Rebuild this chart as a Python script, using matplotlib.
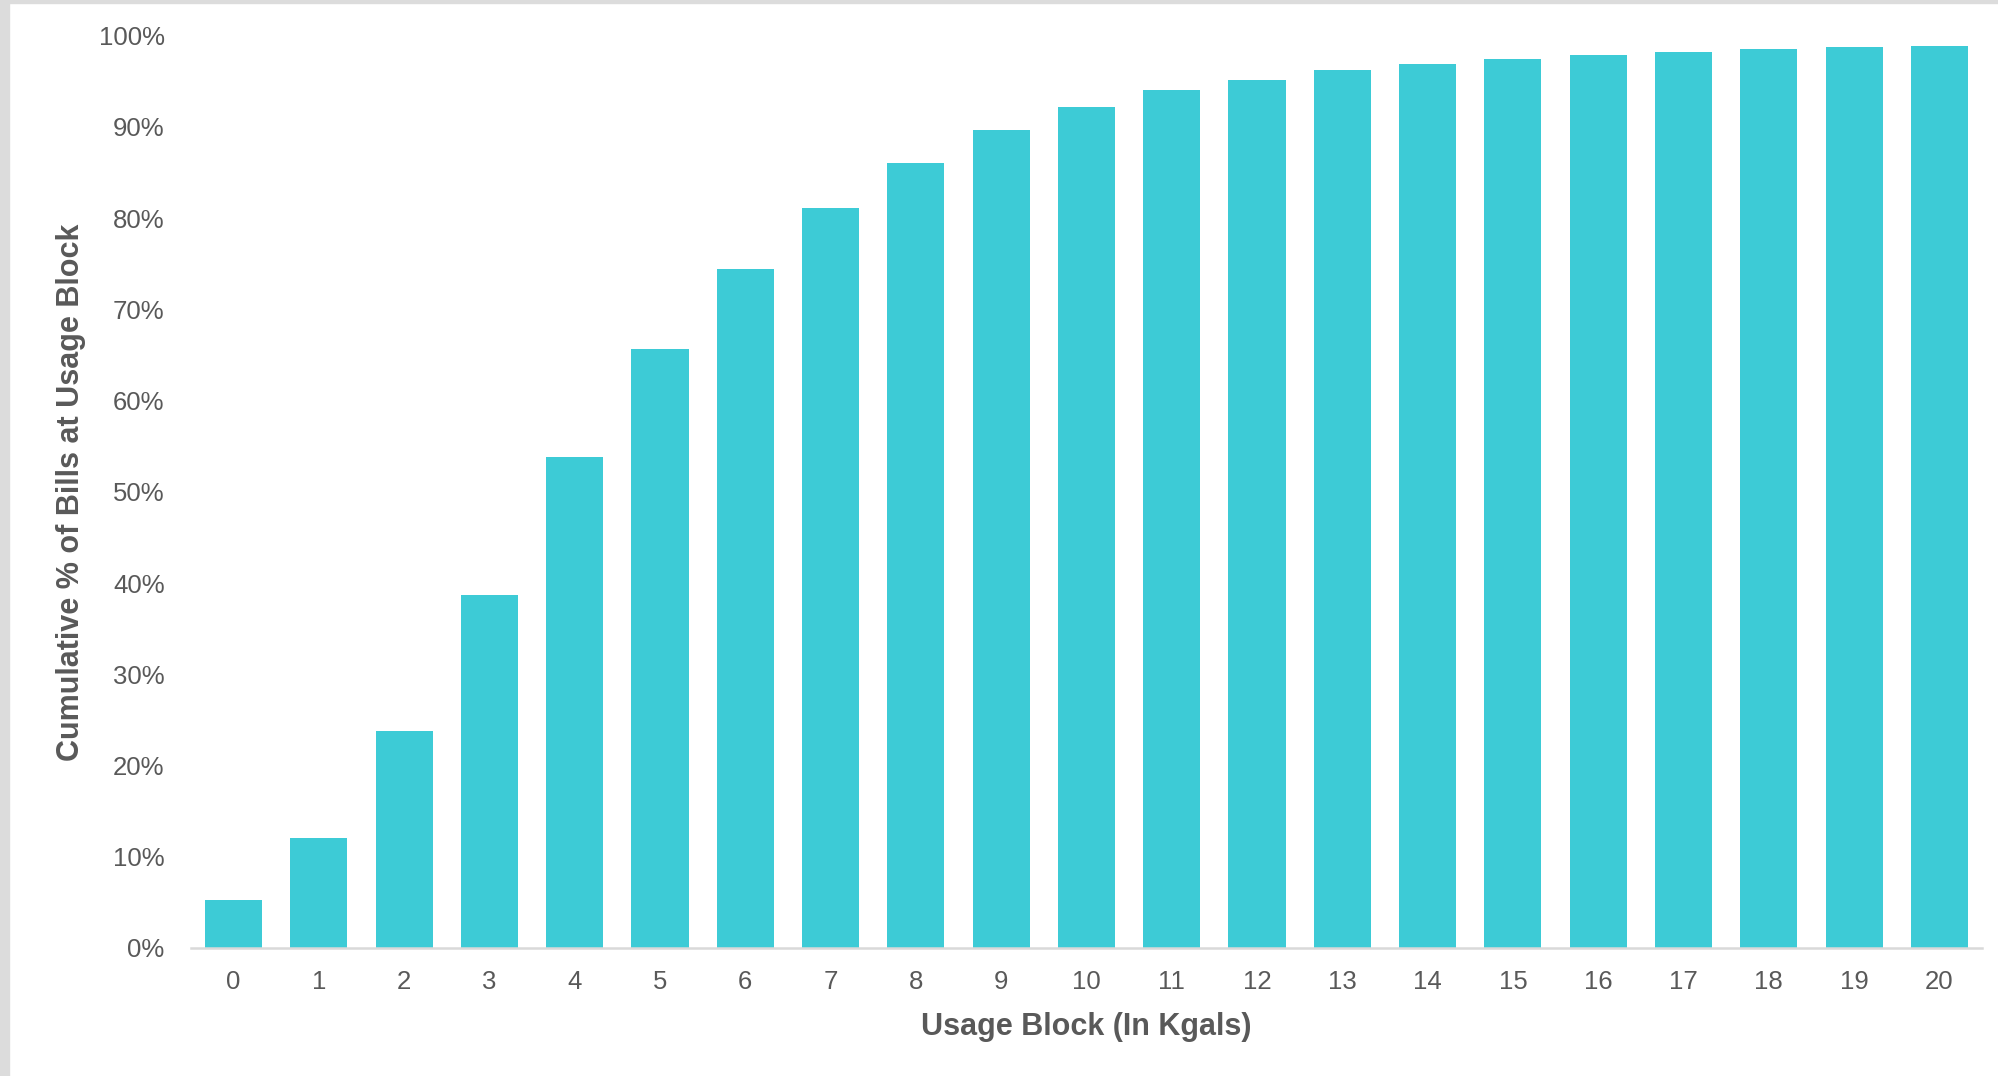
import matplotlib
matplotlib.use("Agg")
import matplotlib.pyplot as plt
from matplotlib.patches import Rectangle
from matplotlib.ticker import PercentFormatter

# usage blocks (kgals) and cumulative share of bills, in %
blocks = list(range(21))
cum_pct = [5.3, 12.0, 23.8, 38.7, 53.8, 65.7, 74.4, 81.1, 86.0, 89.7, 92.2,
           94.0, 95.2, 96.2, 96.9, 97.4, 97.9, 98.2, 98.5, 98.8, 98.9]
tick_labels = [str(b) for b in blocks]
y_ticks = [0, 10, 20, 30, 40, 50, 60, 70, 80, 90, 100]

BAR_COLOR = "#3DCBD6"
TEXT_COLOR = "#595959"
AXIS_COLOR = "#D9D9D9"

plt.rcParams["font.family"] = ["Liberation Sans", "DejaVu Sans"]

fig = plt.figure(figsize=(19.99, 10.76), dpi=100)
ax = fig.add_axes([0.0955, 0.119, 0.896, 0.8478])

ax.bar(blocks, cum_pct, width=0.67, color=BAR_COLOR, zorder=2)

ax.set_xlim(-0.5, 20.5)
ax.set_ylim(0, 100)
ax.set_xticks(blocks)
ax.set_xticklabels(tick_labels)
ax.set_yticks(y_ticks)
ax.yaxis.set_major_formatter(PercentFormatter(xmax=100, decimals=0))

for side in ["top", "right", "left"]:
    ax.spines[side].set_visible(False)
ax.spines["bottom"].set_color(AXIS_COLOR)
ax.spines["bottom"].set_linewidth(1.8)
ax.spines["bottom"].set_zorder(3)

ax.tick_params(axis="x", length=0, pad=16, labelsize=18.5, labelcolor=TEXT_COLOR)
ax.tick_params(axis="y", length=0, pad=19, labelsize=18.5, labelcolor=TEXT_COLOR)

ax.set_xlabel("Usage Block (In Kgals)", fontsize=22, fontweight="bold", color=TEXT_COLOR)
ax.set_ylabel("Cumulative % of Bills at Usage Block", fontsize=22, fontweight="bold",
              color=TEXT_COLOR)
ax.xaxis.set_label_coords(0.5, -0.0705)
ax.yaxis.set_label_coords(-0.0585, 0.5)

# thin grey frame on the left and top edges of the picture
fig.patches.append(Rectangle((0, 0), 9 / 1999, 1, transform=fig.transFigure,
                             color="#DCDCDC", zorder=0))
fig.patches.append(Rectangle((0, 1 - 3 / 1076), 1, 3 / 1076, transform=fig.transFigure,
                             color="#DCDCDC", zorder=0))

fig.savefig("out.png", dpi=100)
